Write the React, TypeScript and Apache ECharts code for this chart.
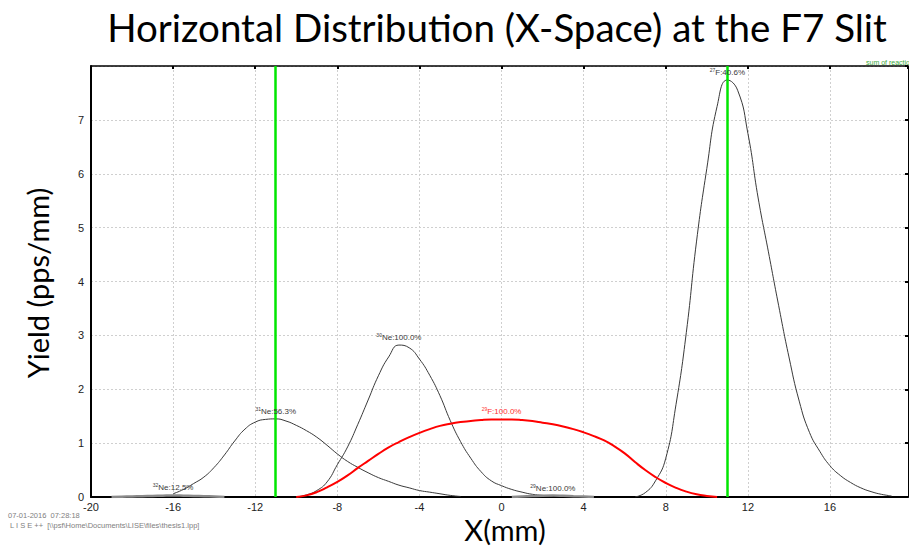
import React, { useEffect, useRef } from "react";
import * as echarts from "echarts";

// ---- data ----
const X_32NE = [-19, -18.5, -18, -17.5, -17, -16.5, -16, -15.5, -15, -14.5, -14, -13.5];
const Y_32NE = [0.0, 0.005, 0.01, 0.015, 0.02, 0.025, 0.028, 0.025, 0.02, 0.015, 0.008, 0.0];

const X_31NE = [-16, -15.5, -15, -14.5, -14, -13.5, -13, -12.5, -12, -11.5, -11, -10.5, -10, -9.5, -9, -8.5, -8, -7.5, -7, -6.5, -6, -5.5, -5, -4.5, -4, -3.5, -3, -2.5, -2];
const Y_31NE = [0.06, 0.14, 0.25, 0.37, 0.55, 0.78, 1.04, 1.26, 1.39, 1.44, 1.45, 1.41, 1.33, 1.23, 1.11, 0.96, 0.8, 0.66, 0.55, 0.45, 0.36, 0.29, 0.22, 0.17, 0.12, 0.09, 0.06, 0.03, 0.01];

const X_30NE = [-10, -9.5, -9, -8.5, -8, -7.5, -7, -6.5, -6, -5.5, -5, -4.5, -4, -3.5, -3, -2.5, -2, -1.5, -1, -0.5, 0, 0.5, 1, 1.5, 2, 2.5];
const Y_30NE = [0.0, 0.04, 0.12, 0.28, 0.6, 0.93, 1.35, 1.8, 2.25, 2.6, 2.82, 2.77, 2.56, 2.26, 1.88, 1.42, 1.03, 0.72, 0.47, 0.3, 0.21, 0.14, 0.09, 0.05, 0.03, 0.01];

const X_29F = [-10, -9.5, -9, -8.5, -8, -7.5, -7, -6.5, -6, -5.5, -5, -4.5, -4, -3.5, -3, -2.5, -2, -1.5, -1, -0.5, 0, 0.5, 1, 1.5, 2, 2.5, 3, 3.5, 4, 4.5, 5, 5.5, 6, 6.5, 7, 7.5, 8, 8.5, 9, 9.5, 10, 10.5];
const Y_29F = [0.0, 0.03, 0.09, 0.18, 0.28, 0.4, 0.54, 0.67, 0.8, 0.92, 1.02, 1.11, 1.19, 1.26, 1.32, 1.36, 1.39, 1.41, 1.43, 1.44, 1.44, 1.44, 1.43, 1.41, 1.38, 1.35, 1.31, 1.26, 1.2, 1.13, 1.05, 0.94, 0.81, 0.65, 0.5, 0.37, 0.26, 0.17, 0.1, 0.05, 0.02, 0.0];

const X_29NE = [0.5, 1, 1.5, 2, 2.5, 3, 3.5, 4, 4.5];
const Y_29NE = [0.0, 0.01, 0.018, 0.024, 0.026, 0.022, 0.015, 0.008, 0.0];

const X_27F = [6.5, 7, 7.5, 8, 8.5, 9, 9.5, 10, 10.5, 11, 11.5, 12, 12.5, 13, 13.5, 14, 14.5, 15, 15.5, 16, 16.5, 17, 17.5, 18, 18.5, 19];
const Y_27F = [0.0, 0.08, 0.3, 0.72, 1.72, 3.05, 4.75, 6.1, 7.25, 7.74, 7.55, 6.75, 5.55, 4.55, 3.55, 2.6, 1.78, 1.2, 0.85, 0.58, 0.4, 0.27, 0.17, 0.1, 0.05, 0.02];

const LABEL_32NE = ["32", "Ne:12.5%"];
const LABEL_31NE = ["31", "Ne:56.3%"];
const LABEL_30NE = ["30", "Ne:100.0%"];
const LABEL_29F = ["29", "F:100.0%"];
const LABEL_29NE = ["29", "Ne:100.0%"];
const LABEL_27F = ["27", "F:40.6%"];

const SLIT_POSITIONS = [-11, 11];

const X_TICK_MIN = -20;
const X_MAX = 19.8;
const Y_MAX = 8;

const TITLE = "Horizontal Distribution (X-Space) at the F7 Slit";
const Y_TITLE = "Yield (pps/mm)";
const X_TITLE = "X(mm)";
const STAMP_1 = "07-01-2016  07:28:18";
const STAMP_2 = "L I S E ++  [\\\\psf\\Home\\Documents\\LISE\\files\\thesis1.lpp]";
const SUM_TEXT = "sum of reactio";

function zip(xs: number[], ys: number[]) {
  return xs.map((x, i) => [x, ys[i]]);
}

function peakOf(xs: number[], ys: number[]) {
  let k = 0;
  ys.forEach((v, i) => {
    if (v > ys[k]) k = i;
  });
  return [xs[k], ys[k]];
}

function labelPoint(xs: number[], ys: number[], lab: string[], color: string, xOverride?: number) {
  const p = peakOf(xs, ys);
  if (xOverride !== undefined) p[0] = xOverride;
  return {
    symbol: "circle",
    symbolSize: 1,
    itemStyle: { color: "rgba(0,0,0,0)" },
    silent: true,
    data: [
      {
        coord: p,
        label: {
          show: true,
          position: "top",
          distance: 2,
          formatter: "{s|" + lab[0] + "}{t|" + lab[1] + "}",
          rich: {
            s: { fontSize: 5, color, fontFamily: "Liberation Sans", verticalAlign: "top", lineHeight: 10 },
            t: { fontSize: 8, color, fontFamily: "Liberation Sans", lineHeight: 10 },
          },
        },
      },
    ],
  };
}

function curve(name: string, xs: number[], ys: number[], color: string, width: number, mp: any, extra: any = {}) {
  return {
    type: "line",
    name,
    data: zip(xs, ys),
    smooth: 0.5,
    symbol: "none",
    lineStyle: { color, width },
    markPoint: mp,
    z: 3,
    ...extra,
  };
}

export default function App() {
  const ref = useRef<HTMLDivElement>(null);
  useEffect(() => {
    if (!ref.current) return;
    const chart = echarts.init(ref.current, null, { renderer: "svg" });
    const dark = "#3a3a3a";
    const option: any = {
      animation: false,
      backgroundColor: "#ffffff",
      grid: { left: 91, right: 1, top: 66, bottom: 49, containLabel: false },
      xAxis: [
        {
          type: "value",
          min: X_TICK_MIN,
          max: X_MAX,
          interval: 4,
          position: "bottom",
          axisLine: { show: true, onZero: false, lineStyle: { color: "#000", width: 2 } },
          axisTick: { show: false },
          axisLabel: {
            color: "#222",
            fontSize: 11,
            fontFamily: "Liberation Sans",
            margin: 4,
            showMaxLabel: false,
            formatter: (v: number) => (Math.abs(v % 4) < 1e-6 ? String(v) : ""),
          },
          splitLine: { show: true, lineStyle: { color: "#cfcfcf", type: [2, 2], width: 1 } },
        },
        {
          type: "value",
          min: X_TICK_MIN,
          max: X_MAX,
          interval: 4,
          position: "top",
          axisLine: { show: true, onZero: false, lineStyle: { color: "#000", width: 1.5 } },
          axisTick: { show: true, inside: true, length: 3, lineStyle: { color: "#000", width: 2 } },
          axisLabel: { show: false },
          splitLine: { show: false },
        },
      ],
      yAxis: [
        {
          type: "value",
          min: 0,
          max: Y_MAX,
          interval: 1,
          position: "left",
          axisLine: { show: true, onZero: false, lineStyle: { color: "#000", width: 2 } },
          axisTick: { show: false },
          axisLabel: {
            color: "#222",
            fontSize: 11,
            fontFamily: "Liberation Sans",
            margin: 7,
            formatter: (v: number) => (v === Y_MAX ? "" : String(v)),
          },
          splitLine: { show: true, lineStyle: { color: "#cfcfcf", type: [2, 2], width: 1 } },
        },
        {
          type: "value",
          min: 0,
          max: Y_MAX,
          interval: 1,
          position: "right",
          axisLine: { show: true, onZero: false, lineStyle: { color: "#000", width: 1 } },
          axisTick: { show: true, inside: true, length: 3, lineStyle: { color: "#000", width: 2 } },
          axisLabel: { show: false },
          splitLine: { show: false },
        },
      ],
      series: [
        curve("32Ne", X_32NE, Y_32NE, "#8a8a8a", 2.5, labelPoint(X_32NE, Y_32NE, LABEL_32NE, dark)),
        curve("31Ne", X_31NE, Y_31NE, dark, 1, labelPoint(X_31NE, Y_31NE, LABEL_31NE, dark)),
        curve("30Ne", X_30NE, Y_30NE, dark, 1, labelPoint(X_30NE, Y_30NE, LABEL_30NE, dark)),
        curve("29F", X_29F, Y_29F, "#ff0000", 2, labelPoint(X_29F, Y_29F, LABEL_29F, "#ff3030", 0), { z: 4 }),
        curve("29Ne", X_29NE, Y_29NE, "#8a8a8a", 2.5, labelPoint(X_29NE, Y_29NE, LABEL_29NE, dark)),
        curve("27F", X_27F, Y_27F, dark, 1, labelPoint(X_27F, Y_27F, LABEL_27F, dark), {
          markLine: {
            silent: true,
            symbol: "none",
            label: { show: false },
            lineStyle: { color: "#00e600", width: 2.5, type: "solid" },
            data: SLIT_POSITIONS.map((x) => ({ xAxis: x })),
            z: 5,
          },
        }),
      ],
      graphic: [
        {
          type: "text",
          x: 497,
          y: 27,
          style: {
            text: TITLE,
            font: "38.5px Lato",
            fill: "#000",
            textAlign: "center",
            textVerticalAlign: "middle",
          },
        },
        {
          type: "text",
          x: 37,
          y: 283,
          rotation: Math.PI / 2,
          style: {
            text: Y_TITLE,
            font: "29px Lato",
            fill: "#000",
            textAlign: "center",
            textVerticalAlign: "middle",
          },
        },
        {
          type: "text",
          x: 505,
          y: 529,
          style: {
            text: X_TITLE,
            font: "29px Lato",
            fill: "#000",
            textAlign: "center",
            textVerticalAlign: "middle",
          },
        },
        {
          type: "text",
          x: 8,
          y: 515,
          style: { text: STAMP_1, font: "7.5px 'Liberation Sans'", fill: "#808080", textVerticalAlign: "middle" },
        },
        {
          type: "text",
          x: 10,
          y: 525,
          style: { text: STAMP_2, font: "7.5px 'Liberation Sans'", fill: "#808080", textVerticalAlign: "middle" },
        },
        {
          type: "text",
          x: 866,
          y: 62,
          style: { text: SUM_TEXT, font: "7px 'Liberation Sans'", fill: "#3aa83a", textVerticalAlign: "middle" },
        },
      ],
    };
    chart.setOption(option);
    return () => chart.dispose();
  }, []);
  return (
    <div style={{ position: "absolute", left: 0, top: 0, width: 909, height: 546, background: "#fff" }}>
      <div ref={ref} style={{ width: 909, height: 546 }} />
    </div>
  );
}
